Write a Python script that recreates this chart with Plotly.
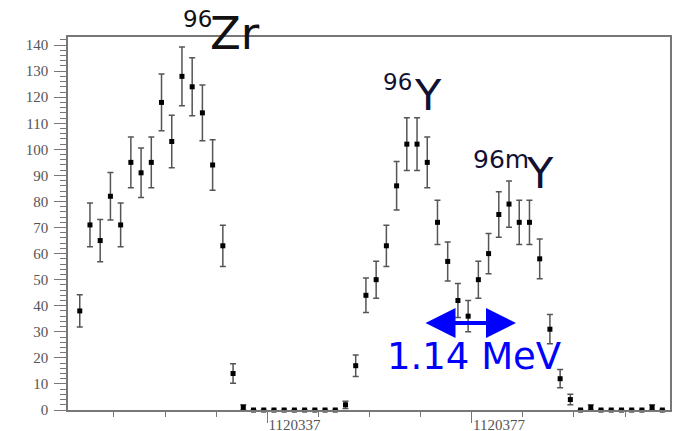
import plotly.graph_objects as go

# ---- data (bin centres, counts, statistical errors) ----
x_centers = [
    1120300.3, 1120302.3, 1120304.3, 1120306.3, 1120308.3, 1120310.3, 1120312.3, 1120314.3,
    1120316.3, 1120318.3, 1120320.3, 1120322.3, 1120324.3, 1120326.3, 1120328.3, 1120330.3,
    1120332.3, 1120334.3, 1120336.3, 1120338.3, 1120340.3, 1120342.3, 1120344.3, 1120346.3,
    1120348.3, 1120350.3, 1120352.3, 1120354.3, 1120356.3, 1120358.3, 1120360.3, 1120362.3,
    1120364.3, 1120366.3, 1120368.3, 1120370.3, 1120372.3, 1120374.3, 1120376.3, 1120378.3,
    1120380.3, 1120382.3, 1120384.3, 1120386.3, 1120388.3, 1120390.3, 1120392.3, 1120394.3,
    1120396.3, 1120398.3, 1120400.3, 1120402.3, 1120404.3, 1120406.3, 1120408.3, 1120410.3,
    1120412.3, 1120414.3,
]
counts = [
    38, 71, 65, 82, 71, 95, 91, 95, 118, 103, 128, 124, 114, 94, 63, 14,
    1, 0, 0, 0, 0, 0, 0, 0, 0, 0, 2, 17, 44, 50, 63, 86,
    102, 102, 95, 72, 57, 42, 36, 50, 60, 75, 79, 72, 72, 58, 31, 12,
    4, 0, 1, 0, 0, 0, 0, 0, 1, 0,
]
errors = [
    6.2, 8.4, 8.1, 9.1, 8.4, 9.7, 9.5, 9.7, 10.9, 10.1, 11.3, 11.1, 10.7, 9.7, 7.9, 3.7,
    1.0, 0, 0, 0, 0, 0, 0, 0, 0, 0, 1.4, 4.1, 6.6, 7.1, 7.9, 9.3,
    10.1, 10.1, 9.7, 8.5, 7.5, 6.5, 6.0, 7.1, 7.7, 8.7, 8.9, 8.5, 8.5, 7.6, 5.6, 3.5,
    2.0, 0, 1.0, 0, 0, 0, 0, 0, 1.0, 0,
]
x_label_vals = [1120337, 1120377]
x_label_text = ["1120337", "1120377"]

W, H = 677, 431
ML, MR, MT, MB = 68, 7, 37, 21
PW, PH = W - ML - MR, H - MT - MB


def px(xp):
    return (xp - ML) / PW


def py(yp):
    return (H - MB - yp) / PH


fig = go.Figure()
fig.add_trace(go.Scatter(
    x=x_centers, y=counts, mode="markers",
    marker=dict(symbol="square", size=5, color="black"),
    error_y=dict(type="data", array=errors, visible=True, color="#555555",
                 thickness=1.5, width=3),
    cliponaxis=False, showlegend=False,
))

axis_grey = "#777777"
tick_font = dict(family="Liberation Serif", size=15, color="#555555")

fig.update_xaxes(
    range=[1120298.0, 1120415.8], automargin=False,
    tickmode="array", tickvals=x_label_vals, ticktext=x_label_text,
    ticks="outside", ticklen=11, tickwidth=1, tickcolor=axis_grey,
    ticklabelposition="outside right", ticklabelstandoff=0,
    minor=dict(dtick=10, tick0=1120337, ticks="outside", ticklen=5,
               tickcolor=axis_grey, tickwidth=1),
    showline=True, linecolor=axis_grey, linewidth=1.5, mirror=True,
    showgrid=False, zeroline=False, tickfont=tick_font,
)
fig.update_yaxes(
    range=[0, 143.1], dtick=10, tick0=0, automargin=False,
    ticks="outside", ticklen=12, tickwidth=1, tickcolor=axis_grey,
    minor=dict(dtick=2, ticks="outside", ticklen=6, tickcolor=axis_grey, tickwidth=1),
    showline=True, linecolor=axis_grey, linewidth=1.5, mirror=True,
    showgrid=False, zeroline=False, tickfont=tick_font, ticklabelstandoff=3,
)

sans = "DejaVu Sans"
labels = [
    ("96", 181, 19, 23, "#111111"),
    ("Zr", 208, 33, 45, "#111111"),
    ("96", 381, 82.5, 23, "#111133"),
    ("Y", 412, 95, 43, "#111133"),
    ("96m", 471, 159, 25, "#111133"),
    ("Y", 524, 172.5, 43, "#111133"),
    ("1.14 MeV", 385, 356, 37, "#0000ff"),
]
for text, lx, cy, size, col in labels:
    fig.add_annotation(
        text=text, xref="paper", yref="paper", x=px(lx), y=py(cy),
        xanchor="left", yanchor="middle", showarrow=False,
        font=dict(family=sans, size=size, color=col),
    )

# double headed blue arrow (tail offset given in pixels)
fig.add_annotation(
    xref="paper", yref="paper", x=px(516), y=py(323),
    axref="pixel", ayref="pixel", ax=-(516 - 424), ay=0, text="",
    showarrow=True, arrowside="end+start", arrowhead=2, arrowsize=1.5,
    arrowwidth=4, arrowcolor="#0000ff",
)

fig.update_layout(
    width=W, height=H,
    margin=dict(l=ML, r=MR, t=MT, b=MB),
    paper_bgcolor="white", plot_bgcolor="white",
)

fig.write_html("out.html")
